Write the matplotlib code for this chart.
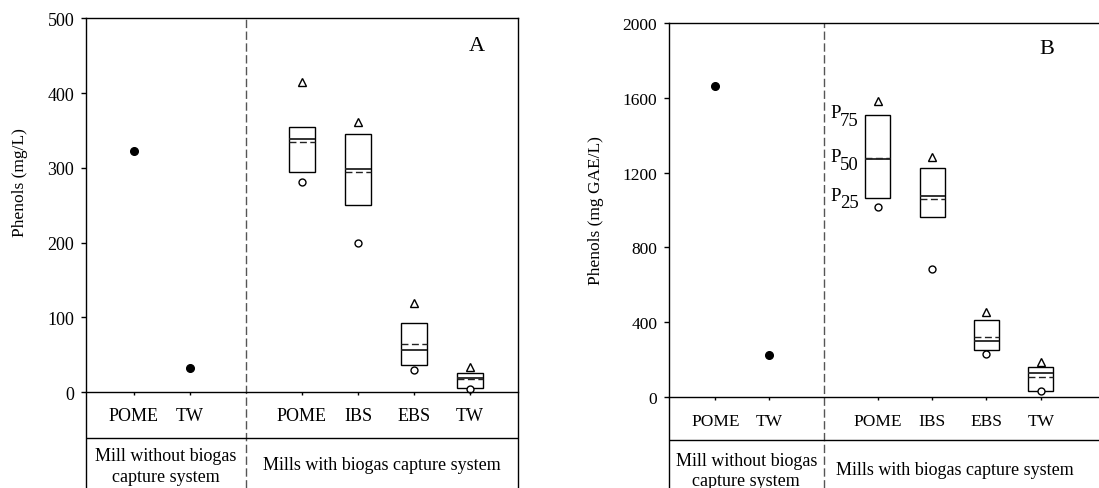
import matplotlib
matplotlib.use("Agg")
import matplotlib.pyplot as plt
import numpy as np

plt.rcParams['font.family'] = ['Liberation Serif', 'DejaVu Serif']

# ---------------- data ----------------
single_cats = ['POME', 'TW']
box_cats = ['POME', 'IBS', 'EBS', 'TW']
group_labels = ['Mill without biogas\ncapture system', 'Mills with biogas capture system']

# Panel A (mg/L)
A_single = [323, 32]
A_p25 = [295, 251, 36, 6]
A_p75 = [354, 345, 92, 26]
A_median = [338, 298, 56, 19]
A_mean = [335, 294, 65, 18]
A_p95 = [415, 361, 120, 34]
A_p5 = [281, 200, 30, 4]

# Panel B (mg GAE/L)
B_single = [1663, 226]
B_p25 = [1066, 961, 250, 31]
B_p75 = [1508, 1223, 414, 161]
B_median = [1273, 1077, 298, 127]
B_mean = [1276, 1057, 321, 105]
B_p95 = [1585, 1285, 455, 188]
B_p5 = [1016, 683, 228, 30]

percentile_labels = ['75', '50', '25']

W, H = 1099, 489
fig = plt.figure(figsize=(W / 100, H / 100), dpi=100)


def px_ax(left, right, top, bottom):
    return fig.add_axes([left / W, 1 - bottom / H, (right - left) / W, (bottom - top) / H])


def draw_panel(ax, single, p25, p75, med, mean, p95, p5, ymax, ymin, sep_y, yticks,
               ylab, lab_xy, letter, letter_xy, xlim, fs_tick, pad_x, show_right,
               g1_y, g2_y, g2_x):
    xs_single = np.array([1, 2])
    xs_box = np.array([4, 5, 6, 7])
    ax.set_xlim(*xlim)
    ax.set_ylim(ymin, ymax)

    # single mills
    ax.plot(xs_single, single, 'o', color='black', markersize=5.5, linestyle='none')
    # boxes
    bw = 0.46
    p25a = np.array(p25); p75a = np.array(p75)
    ax.bar(xs_box, p75a - p25a, bottom=p25a, width=bw, fill=False,
           edgecolor='black', linewidth=1.0)
    ax.hlines(med, xs_box - bw / 2, xs_box + bw / 2, colors='#222222', linewidth=1.3)
    ax.hlines(mean, xs_box - bw / 2, xs_box + bw / 2, colors='#222222', linewidth=1.0,
              linestyles=(0, (5, 2.5)))
    ax.plot(xs_box, p95, '^', markerfacecolor='white', markeredgecolor='black',
            markersize=5.5, markeredgewidth=1.0, linestyle='none')
    ax.plot(xs_box, p5, 'o', markerfacecolor='white', markeredgecolor='black',
            markersize=5, markeredgewidth=1.0, linestyle='none')

    # separators
    ax.axvline(3, color='#555555', linewidth=1.0, linestyle=(0, (6, 2.5)))
    ax.axhline(sep_y, color='black', linewidth=1.0)

    # axes styling
    ax.spines['bottom'].set_position(('data', 0))
    ax.spines['right'].set_visible(show_right)
    for s in ax.spines.values():
        s.set_linewidth(1.0)
    ax.set_yticks(yticks)
    ax.set_yticklabels([str(v) for v in yticks], fontsize=fs_tick)
    ax.set_xticks(list(xs_single) + list(xs_box))
    ax.set_xticklabels(single_cats + box_cats, fontsize=fs_tick)
    ax.tick_params(axis='y', direction='out', length=3.5, width=1.0, pad=5)
    ax.tick_params(axis='x', direction='out', length=2.5, width=1.0, pad=pad_x)

    ax.set_ylabel(ylab, fontsize=12.5)
    ax.yaxis.set_label_coords(lab_xy[0], lab_xy[1], transform=fig.transFigure)

    ax.text(letter_xy[0], letter_xy[1], letter, fontsize=16, ha='center', va='center')

    # group labels
    ax.text((xlim[0] + 3) / 2, g1_y, group_labels[0], fontsize=13,
            ha='center', va='center', linespacing=1.3)
    ax.text(g2_x, g2_y, group_labels[1], fontsize=13, ha='center', va='center')
    return ax


# Panel A
axA = px_ax(86, 518, 19.3, 489)
xlimA = (1 - 48 / 56, 7 + 48 / 56)
draw_panel(axA, A_single, A_p25, A_p75, A_median, A_mean, A_p95, A_p5,
           500, -128, -61, [0, 100, 200, 300, 400, 500], 'Phenols (mg/L)',
           (28 / W, 1 - 183 / H), 'A', (7.12, 464), xlimA, 13, 8, True,
           -99, -96, (3 + xlimA[1]) / 2)

# Panel B
axB = px_ax(669, 1099, 24, 489)
xlimB = (1 - 46 / 54, 7 + 58 / 54)
draw_panel(axB, B_single, B_p25, B_p75, B_median, B_mean, B_p95, B_p5,
           2000, -486.6, -228, [0, 400, 800, 1200, 1600, 2000], 'Phenols (mg GAE/L)',
           (604 / W, 1 - 211 / H), 'B', (7.12, 1866), xlimB, 12.5, 9, False,
           -393, -385, (3 + 7 + 46 / 54) / 2)

# percentile annotation on panel B (P with large subscripts)
for sub, val in zip(percentile_labels, [B_p75[0], B_median[0], B_p25[0]]):
    axB.text(3.118, val + 14, 'P', fontsize=13.5, ha='left', va='center')
    axB.text(3.30, val - 28, sub, fontsize=13.5, ha='left', va='center')

fig.savefig('out.png', dpi=100)
